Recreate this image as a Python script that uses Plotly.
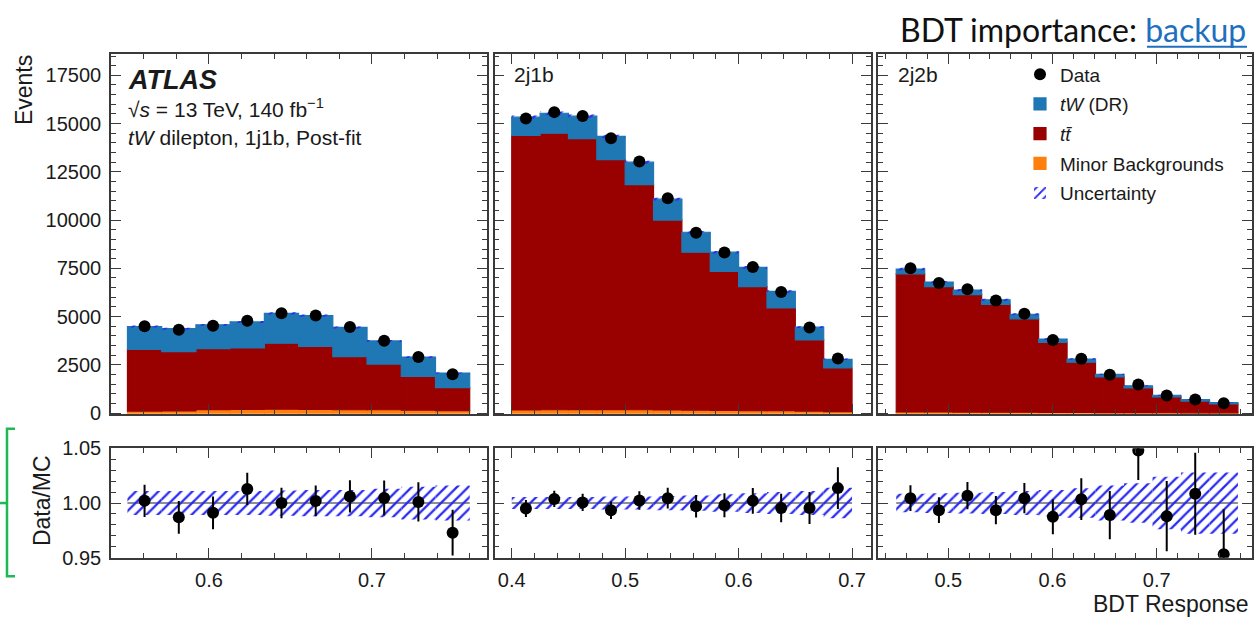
import plotly.graph_objects as go

# ---------------- data ----------------
edges_1j1b = [0.550, 0.571, 0.592, 0.613, 0.634, 0.655, 0.676, 0.697, 0.718, 0.739, 0.760]
data_1j1b = [4494, 4313, 4529, 4781, 5170, 5060, 4462, 3752, 2903, 2014]
minor_1j1b = [100, 110, 180, 190, 200, 190, 170, 170, 150, 120]
ttbar_1j1b = [3200, 3075, 3155, 3180, 3420, 3260, 2750, 2365, 1750, 1200]
tw_1j1b = [1185, 1185, 1235, 1350, 1550, 1600, 1515, 1200, 1000, 750]
ratio_err_1j1b = [0.0147, 0.015, 0.015, 0.0147, 0.014, 0.014, 0.0147, 0.016, 0.018, 0.021]
unc_1j1b = [0.011, 0.011, 0.011, 0.011, 0.0115, 0.012, 0.012, 0.013, 0.015, 0.016]

edges_2j1b = [0.400, 0.425, 0.450, 0.475, 0.500, 0.525, 0.550, 0.575, 0.600, 0.625, 0.650, 0.675, 0.700]
data_2j1b = [15258, 15594, 15394, 14242, 13031, 11134, 9342, 8318, 7565, 6272, 4430, 2823]
minor_2j1b = [160, 170, 180, 180, 170, 160, 150, 140, 130, 120, 100, 70]
ttbar_2j1b = [14225, 14330, 14040, 12955, 11665, 9840, 8185, 7195, 6420, 5330, 3685, 2265]
tw_2j1b = [950, 1035, 1165, 1200, 1165, 1085, 1035, 1000, 1000, 850, 665, 450]
ratio_err_2j1b = [0.0078, 0.0075, 0.0078, 0.008, 0.0085, 0.0095, 0.0103, 0.011, 0.0118, 0.013, 0.0147, 0.019]
unc_2j1b = [0.0055, 0.0055, 0.0055, 0.006, 0.006, 0.0065, 0.007, 0.008, 0.009, 0.010, 0.011, 0.014]

edges_2j2b = [0.4500, 0.4773, 0.5047, 0.5320, 0.5593, 0.5867, 0.6140, 0.6413, 0.6687, 0.6960, 0.7233, 0.7507, 0.7780]
data_2j2b = [7498, 6741, 6413, 5832, 5143, 3787, 2810, 1978, 1483, 909, 706, 510]
minor_2j2b = [60, 55, 50, 45, 40, 35, 30, 25, 20, 15, 12, 10]
ttbar_2j2b = [7155, 6495, 6085, 5590, 4845, 3630, 2605, 1845, 1280, 820, 608, 460]
tw_2j2b = [250, 235, 235, 235, 235, 170, 165, 130, 115, 85, 80, 65]
ratio_err_2j2b = [0.0118, 0.0118, 0.0125, 0.013, 0.0138, 0.016, 0.019, 0.022, 0.027, 0.032, 0.0375, 0.041]
unc_2j2b = [0.0085, 0.009, 0.0095, 0.010, 0.011, 0.012, 0.0135, 0.016, 0.018, 0.024, 0.028, 0.028]

region_labels = ["1j1b", "2j1b", "2j2b"]
x_ranges = [[0.5399, 0.7706], [0.3848, 0.7167], [0.4325, 0.7915]]
events_range = [-65, 18585]
ratio_range = [0.95, 1.05]

# ---------------- style ----------------
W, H = 1260, 625
FONT = "Liberation Sans"
FRAME = "#3a3a3a"
C_TW = "#1f77b4"
C_TT = "#990000"
C_MINOR = "#ff7f0e"
C_HATCH = "#2a2af0"
C_GREEN = "#1db954"
C_LINK = "#1f6fbf"


def px_x(p):
    return p / W


def px_y(p):
    return 1 - p / H


x_domains = [[px_x(111), px_x(487)], [px_x(494.5), px_x(871)], [px_x(878), px_x(1252)]]
top_domain = [px_y(418), px_y(45)]
rat_domain = [px_y(566.7), px_y(453.3)]

panels = [
    dict(edges=edges_1j1b, data=data_1j1b, minor=minor_1j1b, tt=ttbar_1j1b, tw=tw_1j1b,
         err=ratio_err_1j1b, unc=unc_1j1b),
    dict(edges=edges_2j1b, data=data_2j1b, minor=minor_2j1b, tt=ttbar_2j1b, tw=tw_2j1b,
         err=ratio_err_2j1b, unc=unc_2j1b),
    dict(edges=edges_2j2b, data=data_2j2b, minor=minor_2j2b, tt=ttbar_2j2b, tw=tw_2j2b,
         err=ratio_err_2j2b, unc=unc_2j2b),
]

fig = go.Figure()
shapes = []


def hatch():
    return dict(shape="/", fgcolor=C_HATCH, bgcolor="rgba(0,0,0,0)", size=8,
                solidity=0.28, fillmode="overlay", fgopacity=1)


def solid(c):
    return dict(color=c, line=dict(width=1.2, color=c))


for i, p in enumerate(panels, start=1):
    e = p["edges"]
    centers = [(a + b) / 2 for a, b in zip(e[:-1], e[1:])]
    widths = [b - a for a, b in zip(e[:-1], e[1:])]
    minor, tt, tw = p["minor"], p["tt"], p["tw"]
    base_tt = minor
    base_tw = [m + t for m, t in zip(minor, tt)]
    total = [m + t + w for m, t, w in zip(minor, tt, tw)]
    ratio = [d / t for d, t in zip(p["data"], total)]
    xa, ya = f"x{i}", f"y{i}"
    xr, yr = f"x{i + 3}", f"y{i + 3}"
    leg = i == 3

    fig.add_trace(go.Bar(x=centers, y=minor, base=[0] * len(minor), width=widths,
                         marker=solid(C_MINOR),
                         name="Minor Backgrounds", legendrank=4, legendgroup="g4",
                         showlegend=leg, xaxis=xa, yaxis=ya))
    fig.add_trace(go.Bar(x=centers, y=tt, base=base_tt, width=widths,
                         marker=solid(C_TT),
                         name="<i>tt̄</i>", legendrank=3, legendgroup="g3",
                         showlegend=leg, xaxis=xa, yaxis=ya))
    fig.add_trace(go.Bar(x=centers, y=tw, base=base_tw, width=widths,
                         marker=solid(C_TW),
                         name="<i>tW</i> (DR)", legendrank=2, legendgroup="g2",
                         showlegend=leg, xaxis=xa, yaxis=ya))
    fig.add_trace(go.Bar(x=centers, y=[2 * t * u for t, u in zip(total, p["unc"])],
                         base=[t * (1 - u) for t, u in zip(total, p["unc"])], width=widths,
                         marker=dict(color="rgba(0,0,0,0)", line=dict(width=0), pattern=hatch()),
                         name="Uncertainty", legendrank=5, legendgroup="g5",
                         showlegend=leg, xaxis=xa, yaxis=ya))
    fig.add_trace(go.Scatter(x=centers, y=p["data"], mode="markers",
                             marker=dict(color="black", size=12),
                             name="Data", legendrank=1, legendgroup="g1",
                             showlegend=leg, xaxis=xa, yaxis=ya))

    # ratio panel
    fig.add_trace(go.Bar(x=centers, y=[2 * u for u in p["unc"]],
                         base=[1 - u for u in p["unc"]], width=widths,
                         marker=dict(color="rgba(0,0,0,0)", line=dict(width=0), pattern=hatch()),
                         showlegend=False, xaxis=xr, yaxis=yr))
    shapes.append(dict(type="line", xref=xr, yref=yr, x0=e[0], x1=e[-1], y0=1, y1=1,
                       line=dict(color="#6a6a6a", width=1.5), layer="below"))
    fig.add_trace(go.Scatter(x=centers, y=ratio, mode="markers",
                             marker=dict(color="black", size=12),
                             error_y=dict(type="data", array=p["err"], color="black",
                                          thickness=2, width=0),
                             showlegend=False, xaxis=xr, yaxis=yr))

common = dict(showline=True, linecolor=FRAME, linewidth=1.6, mirror="allticks",
              ticks="inside", ticklen=10, tickwidth=1.3, tickcolor=FRAME,
              showgrid=False, zeroline=False,
              tickfont=dict(family=FONT, size=20, color="#1a1a1a"))

layout_axes = {}
for i in range(1, 4):
    xd = x_domains[i - 1]
    xrng = x_ranges[i - 1]
    layout_axes[f"xaxis{i}"] = dict(common, domain=xd, range=xrng, anchor=f"y{i}",
                                    dtick=0.1, tick0=0, showticklabels=False,
                                    minor=dict(ticks="inside", ticklen=5, tickwidth=1.1,
                                               tickcolor=FRAME, dtick=0.02, showgrid=False))
    layout_axes[f"yaxis{i}"] = dict(common, domain=top_domain, range=events_range,
                                    anchor=f"x{i}", dtick=2500, tick0=0, tickformat="d",
                                    showticklabels=(i == 1), ticklabelstandoff=4,
                                    minor=dict(ticks="inside", ticklen=5, tickwidth=1.1,
                                               tickcolor=FRAME, dtick=500, showgrid=False))
    layout_axes[f"xaxis{i + 3}"] = dict(common, domain=xd, range=xrng, anchor=f"y{i + 3}",
                                        dtick=0.1, tick0=0, tickformat=".1f",
                                        ticklabelstandoff=3,
                                        minor=dict(ticks="inside", ticklen=5, tickwidth=1.1,
                                                   tickcolor=FRAME, dtick=0.02, showgrid=False))
    layout_axes[f"yaxis{i + 3}"] = dict(common, domain=rat_domain, range=ratio_range,
                                        anchor=f"x{i + 3}", dtick=0.05, tick0=0.95,
                                        tickformat=".2f", showticklabels=(i == 1),
                                        ticklabelstandoff=4,
                                        minor=dict(ticks="inside", ticklen=5, tickwidth=1.1,
                                                   tickcolor=FRAME, dtick=0.01, showgrid=False))

txt = dict(family=FONT, color="#1a1a1a")
annotations = [
    dict(text="Events", x=px_x(24), y=px_y(82), textangle=-90, font=dict(txt, size=23)),
    dict(text="Data/MC", x=px_x(42), y=px_y(508), textangle=-90, font=dict(txt, size=23)),
    dict(text="BDT Response", x=px_x(1251), y=px_y(615), xanchor="right", font=dict(txt, size=23)),
    dict(text="<b><i>ATLAS</i></b>", x=px_x(126), y=px_y(71), xanchor="left", font=dict(txt, size=27)),
    dict(text="√<i>s</i> = 13 TeV, 140 fb<sup>−1</sup>", x=px_x(126), y=px_y(101),
         xanchor="left", font=dict(txt, size=21)),
    dict(text="<i>tW</i> dilepton, 1j1b, Post-fit", x=px_x(126), y=px_y(131),
         xanchor="left", font=dict(txt, size=21)),
    dict(text="2j1b", x=px_x(512), y=px_y(66), xanchor="left", font=dict(txt, size=21)),
    dict(text="2j2b", x=px_x(896), y=px_y(66), xanchor="left", font=dict(txt, size=21)),
    dict(text="BDT importance: <span style='color:%s'>backup</span>" % C_LINK,
         x=px_x(1248), y=px_y(19), xanchor="right",
         font=dict(family="Lato", size=32, color="#111111")),
]
for a in annotations:
    a.setdefault("xanchor", "center")
    a.setdefault("yanchor", "middle")
    a.update(xref="paper", yref="paper", showarrow=False)

# link underline
shapes.append(dict(type="line", xref="paper", yref="paper", x0=px_x(1147), x1=px_x(1247),
                   y0=px_y(37), y1=px_y(37), line=dict(color=C_LINK, width=2)))
# green bracket at left
shapes.append(dict(type="path", xref="paper", yref="paper",
                   path="M %f,%f L %f,%f L %f,%f L %f,%f" % (
                       px_x(15), px_y(433), px_x(7), px_y(433), px_x(7), px_y(586),
                       px_x(15), px_y(586)),
                   line=dict(color=C_GREEN, width=2.5)))
shapes.append(dict(type="line", xref="paper", yref="paper", x0=px_x(0), x1=px_x(7),
                   y0=px_y(510), y1=px_y(510), line=dict(color=C_GREEN, width=2.5)))

fig.update_layout(
    width=W, height=H, autosize=False,
    margin=dict(l=0, r=0, t=0, b=0),
    paper_bgcolor="white", plot_bgcolor="white",
    barmode="overlay",
    font=dict(family=FONT, size=19, color="#1a1a1a"),
    legend=dict(x=px_x(1020), y=px_y(46), xanchor="left", yanchor="top",
                bgcolor="rgba(0,0,0,0)", borderwidth=0,
                font=dict(family=FONT, size=19, color="#1a1a1a"),
                traceorder="grouped", tracegroupgap=2, itemwidth=30),
    annotations=annotations,
    shapes=shapes,
    **layout_axes,
)

fig.write_html("out.html")
